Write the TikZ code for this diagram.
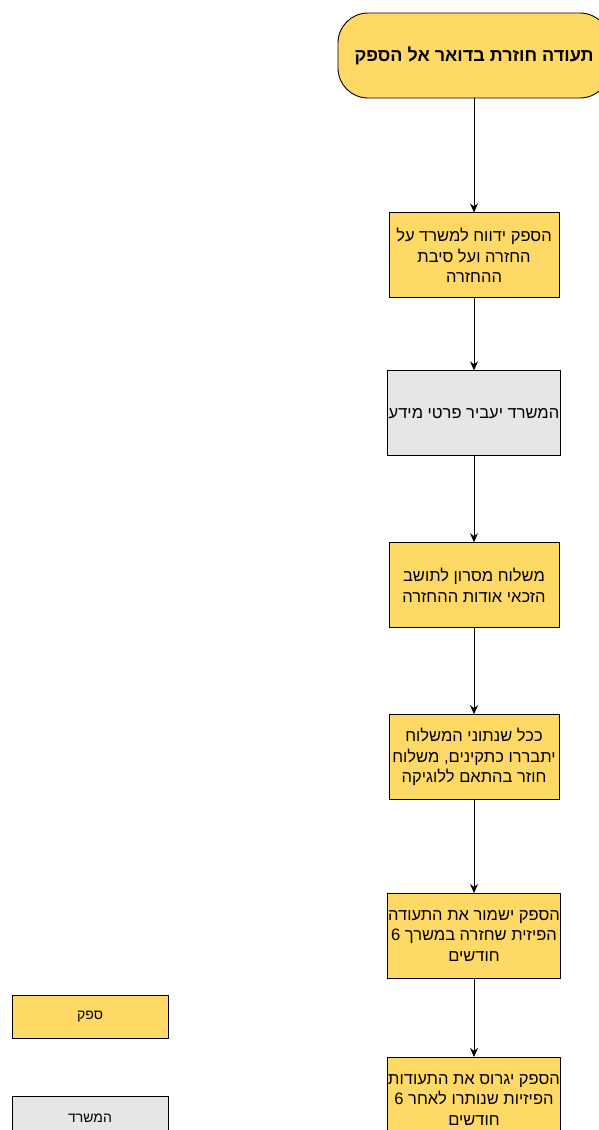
\documentclass[tikz,border=0pt]{standalone}
\usepackage{fontspec}
\setmainfont{Liberation Sans}[Script=Hebrew]
\TeXXeTstate=1
\usetikzlibrary{arrows.meta,positioning}
\definecolor{supplier}{HTML}{FFD966}
\definecolor{office}{HTML}{E6E6E6}
\newcommand{\rtl}[1]{\beginR #1\endR}

\begin{document}
\begin{tikzpicture}[x=1pt,y=-1pt,>={Stealth[length=9pt,width=8pt]},
stepbox/.style={draw=black,line width=0.9pt,fill=supplier,minimum width=170pt,minimum height=85pt,align=center,inner sep=1pt,font=\fontsize{16.5}{20.5}\selectfont},
officebox/.style={stepbox,fill=office},
startbox/.style={draw=black,line width=0.9pt,fill=supplier,rounded corners=30pt,minimum width=272pt,minimum height=85pt,align=center,font=\fontsize{18}{22}\selectfont\bfseries},
legend/.style={draw=black,line width=0.9pt,minimum width=156pt,minimum height=43pt,font=\fontsize{14}{18}\selectfont}]
\useasboundingbox (0,0) rectangle (598,1130);
\node[startbox] (returned) at (474,55.5) {\rtl{תעודה חוזרת בדואר אל הספק}};
\node[stepbox,below=114pt of returned] (report) {\rtl{הספק ידווח למשרד על}\\\rtl{החזרה ועל סיבת}\\\rtl{ההחזרה}};
\node[officebox,below=72pt of report] (details) {\rtl{המשרד יעביר פרטי מידע}};
\node[stepbox,below=86pt of details] (sms) {\rtl{משלוח מסרון לתושב}\\\rtl{הזכאי אודות ההחזרה}};
\node[stepbox,below=86pt of sms] (resend) {\rtl{ככל שנתוני המשלוח}\\\rtl{יתבררו כתקינים, משלוח}\\\rtl{חוזר בהתאם ללוגיקה}};
\node[stepbox,below=93pt of resend] (keep) {\rtl{הספק ישמור את התעודה}\\\rtl{הפיזית שחזרה במשרך 6}\\\rtl{חודשים}};
\node[stepbox,below=78pt of keep] (shred) {\rtl{הספק יגרוס את התעודות}\\\rtl{הפיזיות שנותרו לאחר 6}\\\rtl{חודשים}};
% legend
\node[legend,fill=supplier] (legsupplier) at (90,1016.5) {\rtl{ספק}};
\node[legend,fill=office,below=58pt of legsupplier] (legoffice) {\rtl{המשרד}};
\draw[->,line width=0.9pt] (returned) -- (report);
\draw[->,line width=0.9pt] (report) -- (details);
\draw[->,line width=0.9pt] (details) -- (sms);
\draw[->,line width=0.9pt] (sms) -- (resend);
\draw[->,line width=0.9pt] (resend) -- (keep);
\draw[->,line width=0.9pt] (keep) -- (shred);
\end{tikzpicture}
\end{document}
